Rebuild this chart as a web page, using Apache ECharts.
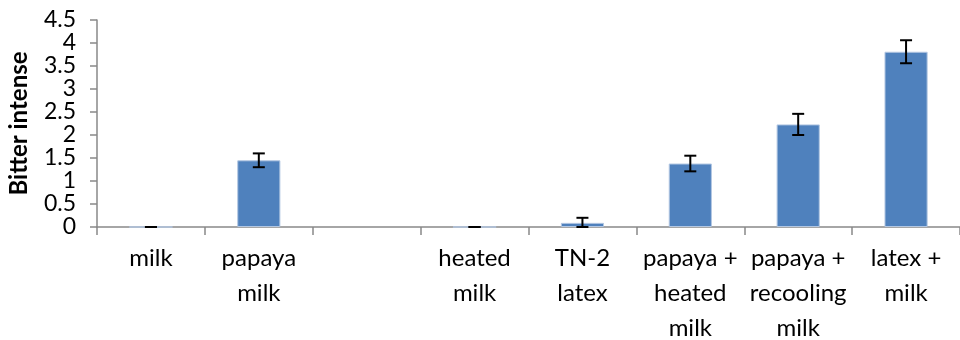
<!DOCTYPE html>
<html>
<head>
<meta charset="utf-8">
<script src="https://cdn.jsdelivr.net/npm/echarts@6/dist/echarts.min.js"></script>
<style>
  html, body { margin: 0; padding: 0; background: #fff; }
  #chart { width: 960px; height: 340px; }
</style>
</head>
<body>
<div id="chart"></div>
<script>
// categories (third slot is empty in the original)
var categories = ['milk', 'papaya\nmilk', '', 'heated\nmilk', 'TN-2\nlatex',
  'papaya +\nheated\nmilk', 'papaya +\nrecooling\nmilk', 'latex +\nmilk'];
var bitterValues = [0, 1.45, null, 0, 0.09, 1.38, 2.23, 3.81];
var errorValues = [0, 0.15, null, 0, 0.11, 0.17, 0.23, 0.25];
var yTicks = [0, 0.5, 1, 1.5, 2, 2.5, 3, 3.5, 4, 4.5];

var font = 'Lato, "Open Sans", sans-serif';

var chart = echarts.init(document.getElementById('chart'));

var errData = bitterValues.map(function (v, i) {
  if (v === null) return [i, null, null];
  return [i, v - errorValues[i], v + errorValues[i]];
}).filter(function (d) { return d[1] !== null; });

var option = {
  animation: false,
  textStyle: { fontFamily: font },
  grid: { left: 97, right: 0, top: 20, bottom: 113, outerBoundsMode: 'none', containLabel: false },
  xAxis: {
    type: 'category',
    data: categories,
    axisLine: { lineStyle: { color: '#898989', width: 1.5 } },
    axisTick: { show: true, length: 8, lineStyle: { color: '#898989', width: 1.5 } },
    axisLabel: { color: '#000', fontSize: 24, lineHeight: 35, margin: 14, interval: 0, fontFamily: font }
  },
  yAxis: {
    type: 'value',
    min: 0, max: 4.5, interval: 0.5,
    name: 'Bitter intense',
    nameLocation: 'middle',
    nameGap: 66,
    nameTextStyle: { color: '#000', fontSize: 24, fontWeight: 'bold', fontFamily: font },
    axisLine: { show: true, lineStyle: { color: '#898989', width: 1.5 } },
    axisTick: { show: true, length: 7, lineStyle: { color: '#898989', width: 1.5 } },
    axisLabel: {
      color: '#000', fontSize: 23, margin: 21, fontFamily: font,
      formatter: function (v) { return yTicks.indexOf(v) >= 0 ? String(v) : ''; }
    },
    splitLine: { show: false }
  },
  series: [
    {
      type: 'bar',
      data: bitterValues,
      barWidth: '40%',
      itemStyle: { color: '#4F81BD', borderColor: '#B3C7E2', borderWidth: 1 }
    },
    {
      type: 'custom',
      data: errData,
      encode: { x: 0, y: [1, 2] },
      z: 5,
      renderItem: function (params, api) {
        var x = api.value(0);
        var lo = api.coord([x, Math.max(0, api.value(1))]);
        var hi = api.coord([x, api.value(2)]);
        var cap = 6;
        var style = { stroke: '#000', lineWidth: 2 };
        return {
          type: 'group',
          children: [
            { type: 'line', shape: { x1: hi[0], y1: hi[1], x2: lo[0], y2: lo[1] }, style: style },
            { type: 'line', shape: { x1: hi[0] - cap, y1: hi[1], x2: hi[0] + cap, y2: hi[1] }, style: style },
            { type: 'line', shape: { x1: lo[0] - cap, y1: lo[1], x2: lo[0] + cap, y2: lo[1] }, style: style }
          ]
        };
      }
    }
  ]
};

chart.setOption(option);
</script>
</body>
</html>
